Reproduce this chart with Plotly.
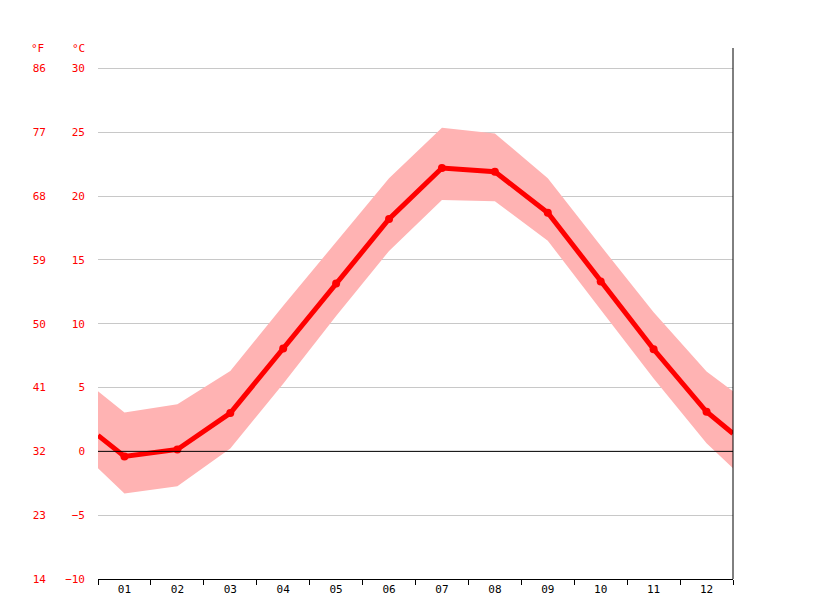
import plotly.graph_objects as go

months = ["01", "02", "03", "04", "05", "06", "07", "08", "09", "10", "11", "12"]
# positions include half-month edges (wrap-around values)
x_pos = [0.5, 1, 2, 3, 4, 5, 6, 7, 8, 9, 10, 11, 12, 12.5]
t_mean = [1.25, -0.4, 0.15, 3.0, 8.06, 13.15, 18.2, 22.2, 21.9, 18.7, 13.3, 8.0, 3.1, 1.4]
t_high = [4.7, 3.05, 3.7, 6.3, 11.4, 16.4, 21.4, 25.35, 24.9, 21.4, 16.1, 10.9, 6.26, 4.7]
t_low = [-1.33, -3.3, -2.74, 0.23, 5.3, 10.6, 15.7, 19.7, 19.6, 16.5, 11.1, 5.7, 0.63, -1.33]
c_ticks = [-10, -5, 0, 5, 10, 15, 20, 25, 30]
c_labels = ["−10", "−5", "0", "5", "10", "15", "20", "25", "30"]
f_labels = ["14", "23", "32", "41", "50", "59", "68", "77", "86"]

font = "DejaVu Sans Mono"

fig = go.Figure()
fig.add_trace(go.Scatter(x=x_pos, y=t_low, mode="lines", line=dict(width=0),
                         showlegend=False, hoverinfo="skip"))
fig.add_trace(go.Scatter(x=x_pos, y=t_high, mode="lines", line=dict(width=0),
                         fill="tonexty", fillcolor="#ffb3b3", showlegend=False))
fig.add_trace(go.Scatter(x=x_pos, y=t_mean, mode="lines", line=dict(color="#ff0000", width=5),
                         showlegend=False))
fig.add_trace(go.Scatter(x=x_pos[1:-1], y=t_mean[1:-1], mode="markers",
                         marker=dict(color="#ff0000", size=8), showlegend=False))
# invisible trace to activate °F axis
fig.add_trace(go.Scatter(x=[1], y=[0], yaxis="y2", mode="markers",
                         marker=dict(opacity=0), showlegend=False, hoverinfo="skip"))

fig.update_layout(
    width=815, height=611,
    margin=dict(l=90, r=90, t=40, b=40),
    plot_bgcolor="white", paper_bgcolor="white",
    font=dict(family=font, size=11),
    xaxis=dict(range=[0.5, 12.5], tickvals=list(range(1, 13)), ticktext=months,
               showgrid=False, zeroline=False, showline=True, linecolor="black",
               ticks="", tickfont=dict(color="black"), automargin=False,
               minor=dict(tickvals=[i + 0.5 for i in range(13)], ticks="outside",
                          ticklen=5, tickcolor="black")),
    yaxis=dict(range=[-10, 31.6], tickvals=c_ticks, ticktext=c_labels,
               tickfont=dict(color="#ff0000"), gridcolor="#c8c8c8",
               zeroline=False, ticklabelstandoff=12, automargin=False),
    yaxis2=dict(range=[-10, 31.6], tickvals=c_ticks, ticktext=f_labels,
                overlaying="y", side="left", anchor="free", position=0,
                tickfont=dict(color="#ff0000"), showgrid=False, zeroline=False,
                ticklabelstandoff=52, automargin=False),
    shapes=[
        dict(type="line", xref="paper", yref="paper", x0=1, x1=1, y0=0, y1=1,
             line=dict(color="black", width=1)),
        dict(type="line", xref="paper", yref="y", x0=0, x1=1, y0=0, y1=0,
             line=dict(color="black", width=1), layer="above"),
    ],
    annotations=[
        dict(text="°F", xref="paper", yref="paper", x=-0.095, y=1.0, showarrow=False,
             font=dict(color="#ff0000", size=11), xanchor="center", yanchor="middle"),
        dict(text="°C", xref="paper", yref="paper", x=-0.03, y=1.0, showarrow=False,
             font=dict(color="#ff0000", size=11), xanchor="center", yanchor="middle"),
    ],
)

fig.write_html("out.html")
